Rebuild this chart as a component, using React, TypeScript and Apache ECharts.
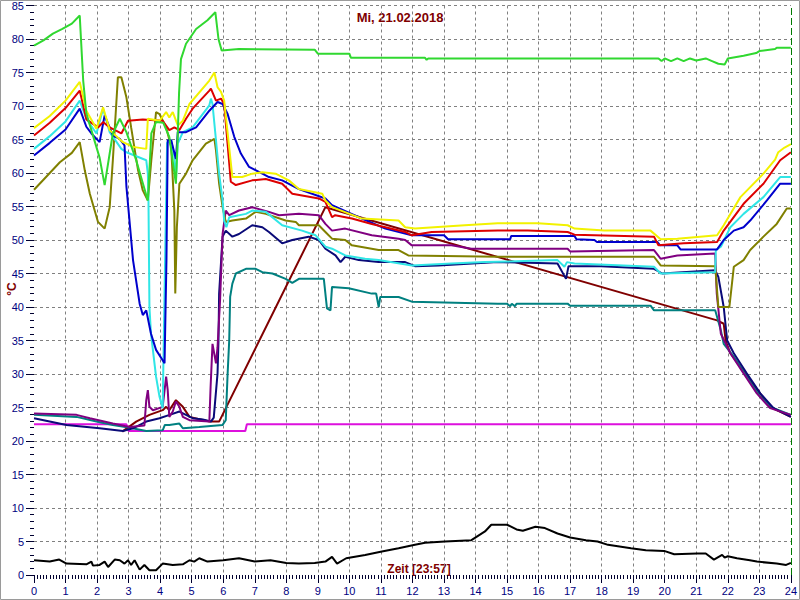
import React, { useEffect, useRef } from 'react';
import * as echarts from 'echarts';

// Time axis (hours) and temperature axis (°C)
const hourRange = [0, 24];
const tempRange = [0, 85];
const titleText = 'Mi, 21.02.2018';
const timeLabel = 'Zeit [23:57]';
const unitLabel = '°C';
const markerHour = 24;

type P = [number, number];

const lime: P[] = [[0,79],[0.3,79.8],[0.6,80.8],[0.9,81.5],[1.2,82.3],[1.45,83.5],[1.56,73.8],[1.66,68.9],[2.08,62.3],[2.24,58.2],[2.5,65.9],[2.72,68.1],[2.93,66.1],[3.24,61.9],[3.61,55.9],[3.72,65.9],[3.87,67.6],[4.1,67.5],[4.29,65.4],[4.5,58.4],[4.56,66],[4.6,72],[4.66,77],[4.82,79.3],[5.14,81.5],[5.5,82.8],[5.75,84],[5.85,80],[5.95,78.3],[6.5,78.5],[8.9,78.4],[9.0,77.8],[10.0,77.8],[10.05,77.2],[12.4,77.2],[12.45,76.9],[12.5,77.1],[19.8,77.1],[19.9,76.7],[20.0,77.1],[20.2,76.7],[20.4,77.1],[20.6,76.7],[20.8,77.1],[21.0,76.8],[21.3,77.1],[21.5,76.7],[21.7,76.3],[21.9,76.2],[22.0,77.1],[22.5,77.5],[22.9,77.9],[23.0,78.2],[23.5,78.5],[23.55,78.7],[24,78.7]];

const yellow: P[] = [[0,66.7],[0.5,68.5],[1.0,70.8],[1.45,73.6],[1.66,69.3],[1.98,66.6],[2.19,69.8],[2.4,66.4],[2.82,64.6],[3.14,63.9],[3.56,63.6],[3.61,68.1],[3.98,67.8],[4.19,69.1],[4.29,68.3],[4.4,69.1],[4.56,67.1],[4.72,67.8],[4.93,70.3],[5.56,73.8],[5.72,75.0],[5.82,72.8],[5.93,72.1],[6.03,70.8],[6.29,59.4],[6.6,59.4],[6.92,59.9],[7.24,60.1],[7.66,59.9],[8.08,58.9],[8.4,57.6],[9.14,56.9],[9.24,55.9],[9.45,54.9],[10.4,53.2],[11.56,52.9],[11.77,51.9],[12.08,51.7],[13.66,52.2],[14.7,52.5],[15.98,52.5],[16.92,52.2],[17.14,51.7],[18.08,51.4],[19.55,51.4],[19.87,50.1],[20.4,50.2],[21.66,50.7],[21.87,52.2],[22.4,56.4],[23.13,59.9],[23.5,62.0],[23.6,63.1],[23.8,63.8],[24,64.3]];

const red: P[] = [[0,65.6],[0.5,67.5],[1.0,69.7],[1.45,72.3],[1.66,68.0],[2.03,66.8],[2.19,67.6],[2.4,66.8],[2.77,65.9],[2.98,67.8],[3.45,68.0],[4.08,67.8],[4.29,66.4],[4.45,66.8],[4.61,66.4],[4.82,68.1],[5.03,69.6],[5.56,72.3],[5.61,72.6],[5.77,70.8],[5.93,71.1],[6.03,70.3],[6.24,58.7],[6.4,58.2],[6.92,58.9],[7.35,59.1],[7.87,58.4],[8.19,56.9],[9.03,56.2],[9.24,55.7],[9.45,53.4],[9.55,53.7],[10.08,53.2],[10.71,52.4],[11.77,51.2],[11.98,50.7],[12.61,51.2],[14.71,51.4],[15.66,51.4],[16.92,51.2],[17.14,50.8],[19.66,50.5],[19.8,49.2],[20.6,49.5],[21.66,49.7],[21.87,51.4],[22.5,55.4],[23.13,58.4],[23.66,61.9],[24,63.1]];

const cyan: P[] = [[0,63.6],[0.5,65.5],[1.0,67.7],[1.45,70.8],[1.66,68.1],[1.98,65.9],[2.19,69.6],[2.4,66.1],[2.77,63.6],[2.93,63.1],[3.56,61.9],[3.61,59.9],[3.63,55.9],[3.66,40.0],[3.71,36.0],[3.87,29.6],[3.98,26.6],[4.08,24.9],[4.15,45],[4.22,64.5],[4.35,64.9],[4.45,62.4],[4.5,58.9],[4.56,64.4],[4.72,66.1],[5.03,66.8],[5.56,70.1],[5.61,71.1],[5.66,70.3],[5.77,64.9],[5.87,59.9],[5.98,55.9],[6.03,52.9],[6.1,51.9],[6.19,53.4],[6.72,53.9],[6.92,54.4],[7.35,54.2],[7.87,52.2],[8.5,51.4],[8.93,50.7],[9.24,49.0],[9.45,48.7],[9.87,47.7],[10.5,47.2],[10.93,47.0],[11.98,46.2],[13.24,46.5],[14.3,46.7],[16.6,47.0],[16.82,46.0],[16.9,46.7],[17.14,46.5],[19.66,46.0],[19.87,45.0],[21.6,45.2],[21.62,48.5],[21.78,49.0],[22.08,51.9],[22.5,53.9],[23.13,56.4],[23.66,59.4],[24,59.4]];

const blue: P[] = [[0,62.6],[0.5,64.5],[1.0,66.5],[1.45,69.6],[1.66,66.9],[1.82,65.9],[2.08,64.6],[2.24,68.6],[2.5,65.6],[2.72,65.1],[2.87,64.1],[2.93,58],[3.14,47.0],[3.35,40.5],[3.45,38.8],[3.56,39.5],[3.71,36.0],[3.87,33.6],[4.14,31.6],[4.2,47],[4.24,64.9],[4.35,64.9],[4.5,62.1],[4.56,66.1],[4.82,66.1],[5.14,66.8],[5.56,69.3],[5.82,70.6],[5.98,70.3],[6.14,68.8],[6.35,65.4],[6.56,62.9],[6.82,60.9],[7.24,59.9],[7.45,59.4],[7.87,58.9],[8.4,57.6],[9.24,56.2],[9.45,55.2],[10.3,53.4],[11.14,51.7],[11.98,50.7],[13.0,50.7],[13.13,50.1],[15.1,50.1],[15.13,50.6],[17.14,50.6],[17.2,50.1],[17.77,50.0],[17.85,49.7],[19.77,49.7],[19.85,49.2],[20.4,49.2],[20.5,48.6],[21.66,48.6],[21.87,50.0],[22.19,51.4],[22.5,51.9],[22.71,52.9],[23.24,55.9],[23.66,58.4],[24,58.4]];

const olive: P[] = [[0,57.5],[0.3,59],[0.82,61.6],[1.2,63],[1.45,64.6],[1.61,60.4],[1.77,56.9],[2.03,52.7],[2.24,51.7],[2.4,54.9],[2.5,61.9],[2.66,74.3],[2.77,74.3],[2.93,71.3],[3.08,66.8],[3.3,60.4],[3.45,57.4],[3.61,55.9],[3.72,61.9],[3.87,69.1],[3.98,68.8],[4.19,66.8],[4.35,63.9],[4.45,54.4],[4.48,42.0],[4.53,51.9],[4.61,58.4],[4.82,59.9],[5.03,61.9],[5.45,64.4],[5.72,65.1],[5.77,63.4],[5.87,58.4],[5.98,54.9],[6.08,52.7],[6.29,52.9],[6.72,53.2],[7.03,54.2],[7.35,53.9],[7.98,52.9],[8.3,52.7],[8.4,52.2],[9.03,52.2],[9.24,51.2],[9.45,50.2],[9.87,50.0],[10.08,49.2],[10.93,48.5],[11.56,48.5],[11.87,47.7],[14.71,47.5],[19.66,47.5],[19.87,46.2],[21.6,46.1],[21.7,40.0],[22.05,40.0],[22.19,46.0],[22.5,47.0],[22.71,48.5],[23.13,50.5],[23.55,52.4],[23.87,54.7],[24,54.7]];

const purple: P[] = [[0,24.1],[1.35,23.9],[1.77,23.4],[2.5,22.6],[3.03,22.1],[3.5,22.3],[3.56,26.1],[3.61,27.6],[3.66,25.1],[3.77,24.6],[4.08,25.1],[4.19,29.6],[4.24,27.6],[4.29,23.6],[4.4,24.4],[4.5,25.9],[4.61,25.1],[4.72,23.6],[4.93,23.1],[5.56,22.9],[5.6,28.1],[5.66,34.5],[5.77,31.6],[5.82,34.0],[5.9,41.0],[5.98,50.9],[6.08,54.4],[6.19,53.7],[6.5,54.4],[6.92,54.9],[7.45,54.2],[7.77,53.7],[8.4,53.9],[9.03,53.7],[9.24,52.4],[9.45,51.4],[9.87,51.7],[10.71,50.7],[11.56,50.2],[11.77,50.0],[11.98,49.2],[13.24,49.2],[13.87,48.7],[16.92,48.7],[17.0,48.3],[19.66,48.5],[19.87,47.2],[20.4,47.7],[21.6,48.0],[21.65,42.0],[21.78,36.0],[22.08,33.1],[22.5,30.1],[22.92,27.1],[23.34,24.9],[24,23.9]];

const navy: P[] = [[0,23.4],[1.03,22.4],[2.08,21.9],[2.82,21.5],[3.14,21.9],[3.56,22.9],[3.98,23.4],[4.3,23.9],[4.61,24.4],[5.03,23.4],[5.35,23.2],[5.61,22.9],[5.7,23.5],[5.82,30.1],[5.85,35.0],[5.87,42.0],[5.98,50.5],[6.08,51.4],[6.29,50.5],[6.5,50.9],[6.92,52.2],[7.24,51.9],[7.45,51.2],[7.87,49.5],[8.19,50.0],[8.71,50.5],[9.03,50.0],[9.24,48.7],[9.56,47.7],[9.72,46.7],[9.87,47.5],[10.3,47.0],[10.93,46.7],[11.77,46.7],[12.08,46.1],[12.82,46.2],[14.71,46.7],[16.6,46.5],[16.87,44.2],[16.95,46.1],[17.98,46.1],[19.66,45.7],[19.92,45.0],[21.6,45.5],[21.7,44.5],[21.87,40.0],[21.98,35.0],[22.19,33.1],[22.6,30.1],[23.03,27.1],[23.45,24.9],[24,23.6]];

const teal: P[] = [[0,23.9],[1.35,23.6],[1.98,22.9],[2.5,22.4],[3.0,22.0],[3.56,21.5],[4.08,21.6],[4.15,22.4],[4.29,22.4],[4.61,22.6],[4.72,21.9],[5.24,22.1],[5.98,22.4],[6.08,23.1],[6.14,30.1],[6.19,35.0],[6.22,41.5],[6.29,43.5],[6.4,45.0],[6.72,45.7],[7.03,45.7],[7.24,45.2],[7.56,45.0],[7.98,44.2],[8.19,43.6],[8.4,44.2],[9.19,44.2],[9.29,39.8],[9.4,39.5],[9.45,43.0],[9.98,42.8],[10.71,42.0],[10.85,42.0],[10.93,40.0],[10.98,41.5],[11.56,41.5],[11.98,40.8],[14.71,40.5],[15.0,40.5],[15.1,40.1],[15.15,40.5],[15.25,40.1],[15.3,40.5],[16.92,40.5],[17.0,40.2],[19.55,40.2],[19.66,39.5],[21.6,39.5],[21.78,36.5],[21.87,34.5],[22.19,32.6],[22.6,29.6],[23.03,26.6],[23.45,24.9],[24,23.9]];

const darkred: P[] = [[2.8,21.4],[3.24,22.9],[3.66,23.9],[4.08,24.6],[4.19,25.1],[4.29,24.6],[4.5,26.1],[4.72,25.1],[4.93,23.6],[5.56,22.9],[5.87,22.9],[9.24,54.9],[21.66,38.0],[21.87,37.5],[21.93,35.0],[22.08,33.1],[23.34,25.1],[23.55,24.6],[24,23.6]];

const magenta: P[] = [[0,22.5],[2.93,22.5],[3.0,21.5],[6.7,21.5],[6.75,22.5],[24,22.5]];

const black: P[] = [[0,2.2],[0.5,2.0],[0.8,2.3],[1.03,1.7],[1.66,1.6],[1.82,2.0],[1.87,1.4],[2.08,1.5],[2.24,2.0],[2.35,1.2],[2.56,2.3],[2.72,2.2],[2.87,1.7],[2.98,2.2],[3.08,1.5],[3.19,2.2],[3.35,0.8],[3.5,1.5],[3.66,0.7],[3.87,0.7],[4.08,1.7],[4.4,1.5],[4.72,1.6],[4.93,2.2],[5.08,2.0],[5.24,2.5],[5.5,2.0],[6.0,2.2],[6.5,2.5],[7.0,2.0],[7.5,2.2],[8.0,1.8],[8.4,1.7],[8.9,1.8],[9.24,2.0],[9.45,2.7],[9.61,1.7],[9.9,2.5],[10.5,3.0],[11.03,3.5],[11.56,4.0],[12.08,4.5],[12.4,4.8],[13.03,5.0],[13.87,5.2],[14.3,6.5],[14.5,7.5],[15.0,7.5],[15.3,6.8],[15.5,6.6],[15.9,7.2],[16.2,7.0],[16.6,6.2],[17.0,5.6],[17.5,5.2],[17.87,5.0],[18.2,4.5],[18.93,4.0],[19.4,3.7],[19.98,3.6],[20.3,3.1],[21.03,3.2],[21.3,3.2],[21.56,2.3],[21.82,3.0],[21.9,2.6],[22.0,2.8],[22.29,2.5],[22.7,2.2],[22.92,2.0],[23.55,1.7],[23.85,1.5],[24,1.8]];

const seriesDefs: { name: string; data: P[]; color: string }[] = [
  { name: 'schwarz', data: black, color: '#000000' },
  { name: 'magenta', data: magenta, color: '#dd10dd' },
  { name: 'darkred', data: darkred, color: '#800000' },
  { name: 'teal', data: teal, color: '#008080' },
  { name: 'navy', data: navy, color: '#0a0a78' },
  { name: 'purple', data: purple, color: '#800080' },
  { name: 'olive', data: olive, color: '#808000' },
  { name: 'cyan', data: cyan, color: '#30e6e6' },
  { name: 'blue', data: blue, color: '#0000cc' },
  { name: 'red', data: red, color: '#dd0000' },
  { name: 'yellow', data: yellow, color: '#f2f200' },
  { name: 'lime', data: lime, color: '#30d830' },
];

const FONT = '"Liberation Sans", Arial, sans-serif';

export default function App() {
  const ref = useRef<HTMLDivElement>(null);
  useEffect(() => {
    if (!ref.current) return;
    const chart = echarts.init(ref.current, undefined, { renderer: 'svg' });
    const gridLine = { show: true, showMinLine: false, lineStyle: { color: '#808080', type: [3, 3], width: 1 } };
    const hiddenAxisLine = { show: true, lineStyle: { color: '#ffffff', opacity: 0, width: 1 } };
    const tickStyle = { color: '#000030', width: 1 };
    const series: any[] = seriesDefs.map((s) => ({
      name: s.name,
      type: 'line',
      data: s.data,
      showSymbol: false,
      symbol: 'none',
      lineStyle: { color: s.color, width: 2 },
      itemStyle: { color: s.color },
      z: 3,
    }));
    series[0].markLine = {
      silent: true,
      symbol: 'none',
      label: { show: false },
      lineStyle: { color: '#007a00', type: [7, 3], width: 1 },
      data: [{ xAxis: markerHour }],
    };
    chart.setOption({
      animation: false,
      backgroundColor: '#ffffff',
      grid: { left: 34, right: 6, top: 5, bottom: 25, containLabel: false },
      xAxis: {
        type: 'value',
        min: hourRange[0],
        max: hourRange[1],
        interval: 1,
        axisLine: hiddenAxisLine,
        axisTick: { show: true, inside: false, length: 8, lineStyle: tickStyle },
        minorTick: { show: true, splitNumber: 10, length: 4, lineStyle: tickStyle },
        axisLabel: { color: '#000080', fontSize: 11, fontFamily: FONT, margin: 10 },
        splitLine: { ...gridLine, showMaxLine: false },
      },
      yAxis: {
        type: 'value',
        min: tempRange[0],
        max: tempRange[1],
        interval: 5,
        axisLine: hiddenAxisLine,
        axisTick: { show: true, inside: false, length: 8, lineStyle: tickStyle },
        minorTick: { show: true, splitNumber: 5, length: 4, lineStyle: tickStyle },
        axisLabel: { color: '#000080', fontSize: 11, fontFamily: FONT, margin: 10 },
        splitLine: { ...gridLine },
      },
      graphic: [
        { type: 'rect', shape: { x: 0.5, y: 0.5, width: 799, height: 599 }, style: { fill: 'none', stroke: '#9a9a9a', lineWidth: 1 }, silent: true },
        { type: 'text', x: 400, y: 17, style: { text: titleText, fill: '#800000', font: `bold 13px ${FONT}`, align: 'center', verticalAlign: 'middle' } },
        { type: 'text', x: 419, y: 569, style: { text: timeLabel, fill: '#800000', font: `bold 12px ${FONT}`, align: 'center', verticalAlign: 'middle' } },
        { type: 'text', x: 12, y: 289, rotation: Math.PI / 2, style: { text: unitLabel, fill: '#800000', font: `bold 12px ${FONT}`, align: 'center', verticalAlign: 'middle' } },
      ],
      series,
    });
    return () => chart.dispose();
  }, []);
  return <div ref={ref} style={{ position: 'fixed', left: 0, top: 0, width: 800, height: 600 }} />;
}
